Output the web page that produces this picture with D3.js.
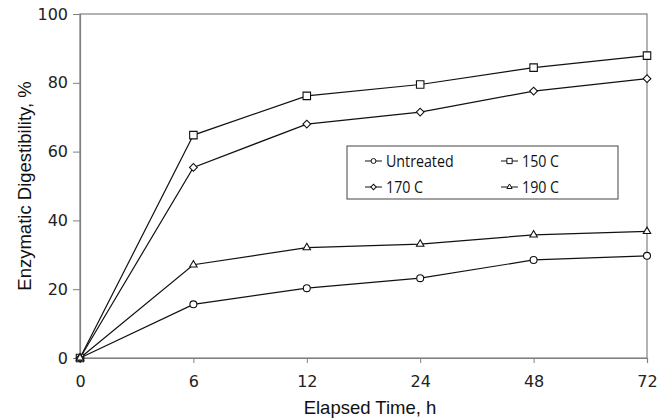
<!DOCTYPE html>
<html lang="en">
<head>
<meta charset="UTF-8">
<title>Enzymatic digestibility</title>
<script src="https://d3js.org/d3.v7.min.js"></script>
<style>
  body, html { margin: 0; padding: 0; background: #fff; }
  .tick text { font-family: "DejaVu Sans", sans-serif; font-size: 16px; fill: #222; }
  .legend text { font-family: "Open Sans", "Noto Sans", sans-serif; font-size: 16px; fill: #111; }
  .title { font-family: "Liberation Sans", Arial, sans-serif; font-size: 18.5px; fill: #111; }
</style>
</head>
<body>
<div id="chart"></div>
<script>
// data
const times = ["0", "6", "12", "24", "48", "72"];
const untreated = [0, 15.6, 20.3, 23.2, 28.5, 29.7];
const c150 = [0, 64.8, 76.2, 79.5, 84.4, 87.9];
const c170 = [0, 55.4, 68.0, 71.5, 77.6, 81.2];
const c190 = [0, 27.1, 32.1, 33.1, 35.8, 36.8];
const yTicks = [0, 20, 40, 60, 80, 100];

const series = [
  { name: "Untreated", values: untreated, symbol: "circle" },
  { name: "150 C", values: c150, symbol: "square" },
  { name: "170 C", values: c170, symbol: "diamond" },
  { name: "190 C", values: c190, symbol: "triangle" }
];

const width = 670, height = 419;
const margin = { top: 14, right: 23, bottom: 61, left: 80 };

const svg = d3.select("#chart").append("svg")
  .attr("width", width)
  .attr("height", height);

const x = d3.scalePoint()
  .domain(times)
  .range([margin.left, width - margin.right]);

const y = d3.scaleLinear()
  .domain([0, 100])
  .range([height - margin.bottom, margin.top]);

// plot frame
svg.append("rect")
  .attr("x", margin.left)
  .attr("y", margin.top)
  .attr("width", width - margin.left - margin.right)
  .attr("height", height - margin.top - margin.bottom)
  .attr("fill", "none")
  .attr("stroke", "#808080")
  .attr("stroke-width", 1.2);

const xAxis = svg.append("g")
  .attr("transform", `translate(0,${height - margin.bottom})`)
  .call(d3.axisBottom(x).tickSize(5).tickPadding(13));

const yAxis = svg.append("g")
  .attr("transform", `translate(${margin.left},0)`)
  .call(d3.axisLeft(y).tickValues(yTicks).tickSize(7).tickPadding(5));

[xAxis, yAxis].forEach(g => {
  g.select(".domain").attr("stroke", "#808080").attr("stroke-width", 1.2);
  g.selectAll(".tick line").attr("stroke", "#808080");
});

// axis titles
svg.append("text")
  .attr("class", "title")
  .attr("x", 370)
  .attr("y", 414)
  .attr("text-anchor", "middle")
  .text("Elapsed Time, h");

svg.append("text")
  .attr("class", "title")
  .attr("transform", "translate(31,186) rotate(-90)")
  .attr("text-anchor", "middle")
  .text("Enzymatic Digestibility, %");

const symbolType = {
  circle: d3.symbolCircle,
  square: d3.symbolSquare,
  diamond: d3.symbolSquare,
  triangle: d3.symbolTriangle
};
const symbolSize = { circle: 38, square: 56, diamond: 30, triangle: 24 };
const symbolRot = { circle: 0, square: 0, diamond: 45, triangle: 0 };

const line = d3.line()
  .x((d, i) => x(times[i]))
  .y(d => y(d));

const g = svg.append("g");

series.forEach(s => {
  g.append("path")
    .attr("d", line(s.values))
    .attr("fill", "none")
    .attr("stroke", "#111")
    .attr("stroke-width", 1.2);
});

series.forEach(s => {
  g.selectAll(null)
    .data(s.values)
    .enter().append("path")
    .attr("d", d3.symbol().type(symbolType[s.symbol]).size(symbolSize[s.symbol]))
    .attr("transform", (d, i) => `translate(${x(times[i])},${y(d)}) rotate(${symbolRot[s.symbol]})`)
    .attr("fill", "#fff")
    .attr("stroke", "#111")
    .attr("stroke-width", 1.1);
});

// legend
const legend = svg.append("g").attr("class", "legend");
legend.append("rect")
  .attr("x", 347).attr("y", 146)
  .attr("width", 271).attr("height", 53)
  .attr("fill", "#fff")
  .attr("stroke", "#555")
  .attr("stroke-width", 1.1);

series.forEach((s, i) => {
  const lx = 365 + (i % 2) * 136;
  const ly = 161 + Math.floor(i / 2) * 26;
  const item = legend.append("g").attr("transform", `translate(${lx},${ly})`);
  item.append("line")
    .attr("x1", 0).attr("x2", 17)
    .attr("stroke", "#111").attr("stroke-width", 1);
  item.append("path")
    .attr("d", d3.symbol().type(symbolType[s.symbol]).size(symbolSize[s.symbol] * 0.5))
    .attr("transform", `translate(8.5,0) rotate(${symbolRot[s.symbol]})`)
    .attr("fill", "#fff").attr("stroke", "#111").attr("stroke-width", 1);
  item.append("text")
    .attr("transform", "translate(21,6) scale(0.89,1)")
    .text(s.name);
});
</script>
</body>
</html>
